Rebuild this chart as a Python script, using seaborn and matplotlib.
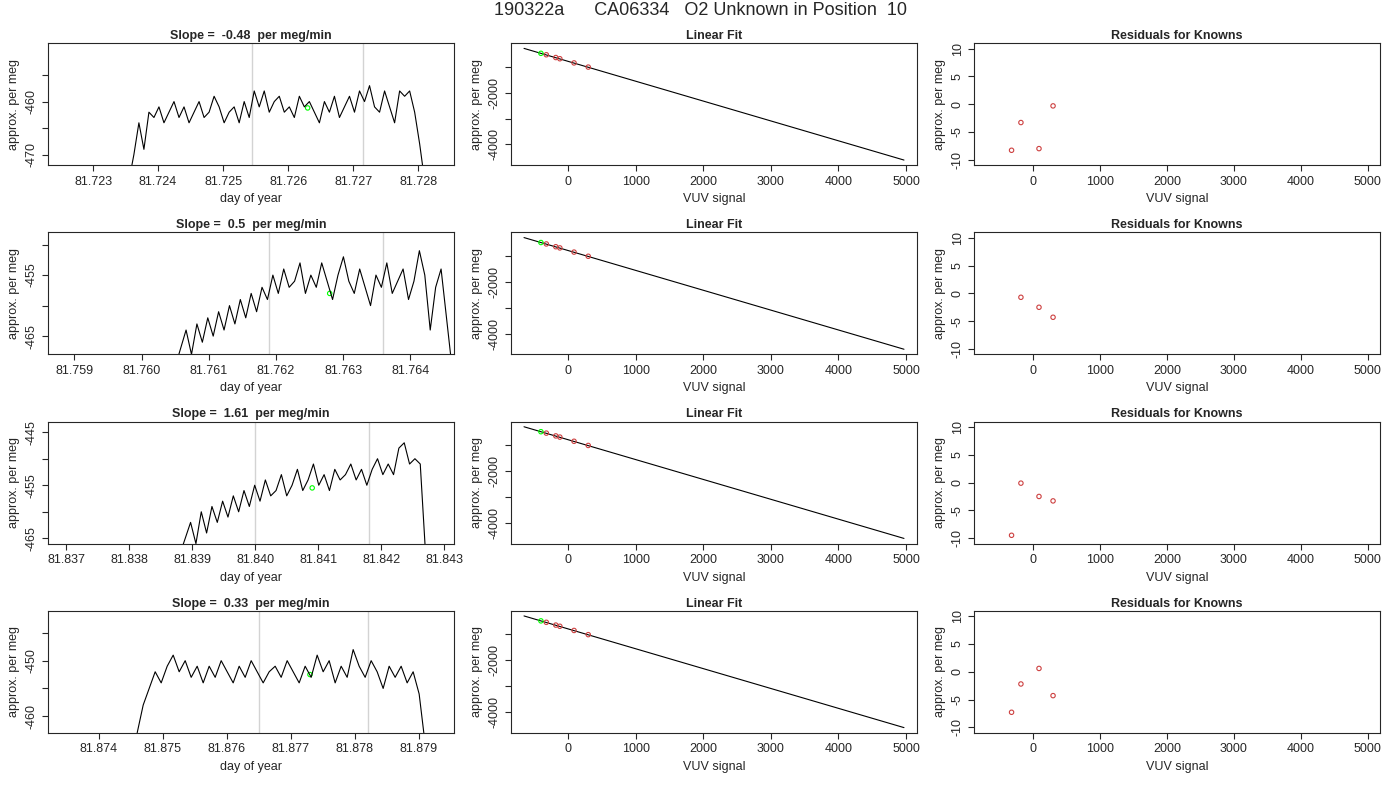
import numpy as np
import pandas as pd
import matplotlib
matplotlib.use('Agg')
import matplotlib.pyplot as plt
import seaborn as sns

sns.set_style("ticks")
plt.rcParams['font.family'] = ['Liberation Sans', 'DejaVu Sans']

# 时间序列（每行一个）
slopes = ['-0.48', '0.5', '1.61', '0.33']
t_start = [81.72355, 81.76050, 81.83880, 81.87460]
t_end = [81.72810, 81.76462, 81.84270, 81.87910]
xlims = [(81.7223, 81.72855), (81.7586, 81.76465), (81.8367, 81.84315), (81.8732, 81.87955)]
ylims = [(-472, -449), (-468, -448), (-466, -443), (-463, -441)]
yticks = [[-470, -465, -460, -455], [-465, -460, -455, -450], [-465, -460, -455, -450, -445], [-460, -455, -450, -445]]
ylabels_show = [[-470, -460], [-465, -455], [-465, -455, -445], [-460, -450]]
xticks = [[81.723, 81.724, 81.725, 81.726, 81.727, 81.728],
          [81.759, 81.760, 81.761, 81.762, 81.763, 81.764],
          [81.837, 81.838, 81.839, 81.840, 81.841, 81.842, 81.843],
          [81.874, 81.875, 81.876, 81.877, 81.878, 81.879]]
grey_lines = [(81.72545, 81.72715), (81.7619, 81.7636), (81.8400, 81.8418), (81.8765, 81.8782)]
green_pt = [(81.7263, -461.2), (81.7628, -458), (81.8409, -455.5), (81.8773, -452.5)]

series = [
    [-475, -470, -464, -469, -462, -463, -461, -464, -462, -460, -463, -461, -464, -462, -460, -463, -462, -459, -461, -464,
     -462, -461, -464, -460, -463, -458, -461, -458, -462, -460, -459, -462, -461, -463, -459, -461, -460, -462, -464, -460,
     -462, -459, -463, -461, -459, -462, -458, -460, -457, -461, -462, -458, -461, -464, -458, -459, -458, -462, -468, -475],
    [-470, -467, -464, -468, -463, -466, -462, -465, -461, -464, -460, -463, -459, -462, -458, -461, -457, -459, -455, -458,
     -454, -457, -456, -453, -458, -455, -457, -453, -456, -459, -455, -452, -456, -458, -454, -457, -460, -455, -457, -453,
     -458, -456, -454, -459, -456, -451, -455, -464, -457, -454, -462, -470],
    [-468, -465, -462, -466, -460, -464, -459, -462, -458, -461, -457, -460, -456, -459, -455, -458, -454, -457, -456, -453,
     -457, -455, -452, -456, -454, -451, -455, -453, -456, -452, -454, -453, -451, -454, -452, -455, -452, -450, -453, -451,
     -453, -448, -447, -451, -450, -451, -468],
    [-463, -458, -455, -452, -454, -451, -449, -452, -450, -453, -451, -454, -451, -453, -450, -452, -454, -451, -453, -450,
     -452, -454, -452, -451, -453, -450, -452, -454, -451, -453, -449, -452, -450, -454, -451, -453, -448, -451, -453, -450,
     -452, -455, -451, -453, -451, -454, -452, -456, -465],
]

# 线性拟合
fit_x = [-650, 4970]
fit_y = [-300, -4600]
known_x = [-320, -180, -120, 90, 300]
known_y = [-545, -652, -698, -859, -1020]
unk_x = [-400]
unk_y = [-490]

# 残差
res_x = [[-320, -180, 90, 300], [-180, 90, 300], [-320, -180, 90, 300], [-320, -180, 90, 300]]
res_y = [[-8.3, -3.3, -8.0, -0.3], [-0.7, -2.5, -4.3], [-9.5, -0.1, -2.5, -3.3], [-7.3, -2.2, 0.6, -4.3]]

RED = '#cd4040'
fig, axes = plt.subplots(4, 3, figsize=(14, 8), dpi=100)
fig.suptitle('190322a      CA06334   O2 Unknown in Position  10', fontsize=13, y=0.998)

for i in range(4):
    ax = axes[i, 0]
    vals = series[i]
    df = pd.DataFrame({'t': np.linspace(t_start[i], t_end[i], len(vals)), 'v': vals})
    for g in grey_lines[i]:
        ax.axvline(g, color='lightgrey', lw=1)
    sns.lineplot(data=df, x='t', y='v', ax=ax, color='black', lw=0.8)
    ax.scatter([green_pt[i][0]], [green_pt[i][1]], s=10, facecolors='none', edgecolors='lime', lw=0.8)
    ax.set_xlim(*xlims[i]); ax.set_ylim(*ylims[i])
    ax.set_xticks(xticks[i])
    ax.set_xticklabels([f'{v:.3f}' for v in xticks[i]])
    ax.set_yticks(yticks[i])
    ax.set_yticklabels([str(v) if v in ylabels_show[i] else '' for v in yticks[i]], rotation=90, va='center')
    ax.set_title(f'Slope =  {slopes[i]}  per meg/min', fontsize=9, fontweight='bold', pad=3)
    ax.set_xlabel('day of year', fontsize=9); ax.set_ylabel('approx. per meg', fontsize=9)

    ax = axes[i, 1]
    sns.lineplot(x=fit_x, y=fit_y, ax=ax, color='black', lw=0.8)
    ax.scatter(known_x, known_y, s=10, facecolors='none', edgecolors=RED, lw=0.8, zorder=3)
    ax.scatter(unk_x, unk_y, s=10, facecolors='none', edgecolors='lime', lw=0.8, zorder=3)
    ax.set_xlim(-845, 5165); ax.set_ylim(-4800, -100)
    ax.set_xticks([0, 1000, 2000, 3000, 4000, 5000])
    ax.set_yticks([-1000, -2000, -3000, -4000])
    ax.set_yticklabels(['', '-2000', '', '-4000'], rotation=90, va='center')
    ax.set_title('Linear Fit', fontsize=9, fontweight='bold', pad=3)
    ax.set_xlabel('VUV signal', fontsize=9); ax.set_ylabel('approx. per meg', fontsize=9)

    ax = axes[i, 2]
    sns.scatterplot(x=res_x[i], y=res_y[i], ax=ax, s=10, facecolor='none', edgecolor=RED, linewidth=0.8)
    ax.set_xlim(-880, 5190); ax.set_ylim(-11, 11)
    ax.set_xticks([0, 1000, 2000, 3000, 4000, 5000])
    ax.set_yticks([-10, -5, 0, 5, 10])
    ax.set_yticklabels(['-10', '-5', '0', '5', '10'], rotation=90, va='center')
    ax.set_title('Residuals for Knowns', fontsize=9, fontweight='bold', pad=3)
    ax.set_xlabel('VUV signal', fontsize=9); ax.set_ylabel('approx. per meg', fontsize=9)

for ax in axes.flat:
    ax.tick_params(labelsize=9, length=4)
    for s in ax.spines.values():
        s.set_linewidth(0.8)

plt.subplots_adjust(left=0.034, right=0.986, top=0.946, bottom=0.084, wspace=0.14, hspace=0.55)
plt.savefig('out.png')
